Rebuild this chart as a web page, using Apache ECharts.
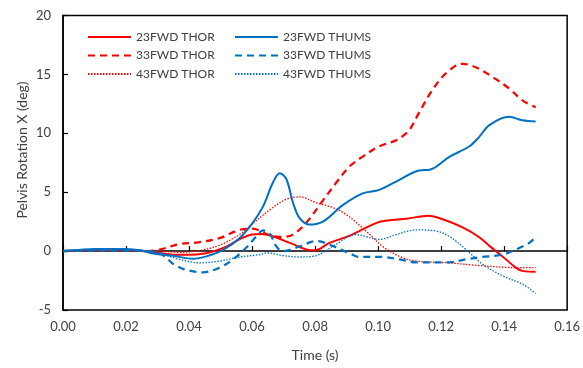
<!DOCTYPE html>
<html><head><meta charset="utf-8">
<script src="https://cdn.jsdelivr.net/npm/echarts@6/dist/echarts.min.js"></script>
<style>html,body{margin:0;padding:0;background:#fff}#c{width:583px;height:368px}</style>
</head><body><div id="c"></div>
<script>
const xTicks = [0, 0.02, 0.04, 0.06, 0.08, 0.10, 0.12, 0.14, 0.16];
const yTicks = [-5, 0, 5, 10, 15, 20];
const xTitle = 'Time (s)';
const yTitle = 'Pelvis Rotation X (deg)';

const thor23T = [0,0.005,0.01,0.015,0.02,0.025,0.03,0.035,0.04,0.045,0.048,0.052,0.056,0.06,0.063,0.066,0.072,0.078,0.08,0.0846,0.091,0.094,0.0995,0.103,0.109,0.116,0.1205,0.127,0.132,0.1355,0.1395,0.1437,0.146,0.15];
const thor23V = [0,0.05,0.1,0.1,0.1,0,-0.15,-0.3,-0.3,-0.2,0,0.4,1.0,1.4,1.45,1.3,0.7,0.1,0.07,0.7,1.3,1.7,2.4,2.6,2.75,3.0,2.7,2.0,1.2,0.4,-0.45,-1.4,-1.7,-1.75];

const thor33T = [0,0.01,0.02,0.027,0.031,0.037,0.043,0.0497,0.056,0.06,0.0656,0.0697,0.073,0.0772,0.0814,0.0867,0.091,0.095,0.1004,0.1057,0.108,0.11,0.1131,0.1173,0.1216,0.1268,0.131,0.1362,0.1416,0.1458,0.15];
const thor33V = [0,0.05,0.05,0,0.15,0.6,0.75,1.1,1.8,1.9,1.35,1.2,1.4,2.4,3.9,5.8,7.2,8.0,8.9,9.4,9.8,10.3,11.8,13.7,15.1,15.9,15.6,14.8,13.8,12.8,12.2];

const thor43T = [0,0.01,0.02,0.03,0.037,0.0434,0.0497,0.056,0.0592,0.0656,0.0709,0.0751,0.0804,0.0856,0.0899,0.0941,0.0982,0.1014,0.1068,0.112,0.1226,0.1331,0.1437,0.15];
const thor43V = [0,0.05,0.05,0,-0.1,0.05,0.5,1.4,2.1,3.5,4.4,4.6,4.1,3.7,3.1,2.2,1.2,0.4,-0.45,-0.85,-1.0,-1.25,-1.4,-1.4];

const thums23T = [0,0.005,0.01,0.02,0.025,0.0286,0.035,0.0413,0.0455,0.0508,0.056,0.0602,0.0635,0.0666,0.0688,0.0709,0.073,0.0751,0.0783,0.0825,0.0888,0.0951,0.1004,0.1057,0.1131,0.1163,0.1226,0.129,0.1321,0.1353,0.1416,0.1458,0.15];
const thums23V = [0,0.1,0.18,0.18,0.05,-0.2,-0.4,-0.65,-0.45,0.1,1.1,2.4,3.8,5.8,6.6,6.1,4.1,2.8,2.25,2.5,3.9,4.9,5.2,5.9,6.85,6.9,8.0,8.9,9.7,10.7,11.4,11.1,11.0];

const thums33T = [0,0.01,0.02,0.03,0.0329,0.035,0.0392,0.0445,0.0497,0.054,0.0582,0.0615,0.0635,0.0656,0.0677,0.0698,0.0751,0.0804,0.0846,0.091,0.0941,0.1014,0.1068,0.112,0.1226,0.1279,0.1331,0.1394,0.1437,0.148,0.15];
const thums33V = [0,0.05,0.05,-0.1,-0.6,-1.1,-1.6,-1.8,-1.4,-0.7,0.3,1.3,1.75,1.5,0.4,0,0.4,0.85,0.55,-0.2,-0.5,-0.5,-0.7,-0.95,-0.95,-0.7,-0.5,-0.3,0.13,0.7,1.2];

const thums43T = [0,0.01,0.02,0.028,0.031,0.037,0.0434,0.0497,0.056,0.0624,0.0645,0.0698,0.0751,0.0804,0.0856,0.093,0.1004,0.1057,0.112,0.1184,0.1226,0.1279,0.1331,0.1395,0.1458,0.15];
const thums43V = [0,0.05,0.05,0,-0.2,-0.7,-1.0,-0.85,-0.5,-0.3,-0.15,-0.38,-0.5,-0.38,0.4,1.4,1.0,1.4,1.8,1.7,1.25,0.13,-1.1,-2.1,-2.8,-3.6];

const RED = '#FF0000', BLUE = '#0070C0';
const FONT = 'Lato';
function pairs(t, v) { return t.map((x, i) => [x, v[i]]); }
function mk(name, t, v, color, type, width) {
  return {
    name, type: 'line', data: pairs(t, v), smooth: 0.35, showSymbol: false, symbol: 'none',
    lineStyle: { color, type, width }, itemStyle: { color }, z: 3
  };
}
const series = [
  mk('23FWD THOR', thor23T, thor23V, RED, 'solid', 2),
  mk('33FWD THOR', thor33T, thor33V, RED, [7, 5], 2.25),
  mk('43FWD THOR', thor43T, thor43V, RED, [1.5, 1.5], 1.3),
  mk('23FWD THUMS', thums23T, thums23V, BLUE, 'solid', 2),
  mk('33FWD THUMS', thums33T, thums33V, BLUE, [7, 5], 2.25),
  mk('43FWD THUMS', thums43T, thums43V, BLUE, [1.5, 1.5], 1.3)
];
const legendCommon = {
  orient: 'vertical', top: 26, itemWidth: 43, itemHeight: 14, itemGap: 6.5,
  itemStyle: { opacity: 0, borderWidth: 0 },
  textStyle: { fontFamily: FONT, fontSize: 12, color: '#404040' }
};
const chart = echarts.init(document.getElementById('c'), null, { renderer: 'canvas' });
chart.setOption({
  animation: false,
  backgroundColor: '#fff',
  grid: { left: 63, right: 15, top: 15.5, bottom: 58, show: true, borderColor: '#000', borderWidth: 1.5, backgroundColor: 'transparent' },
  legend: [
    Object.assign({}, legendCommon, { left: 82, data: ['23FWD THOR', '33FWD THOR', '43FWD THOR'] }),
    Object.assign({}, legendCommon, { left: 229, data: ['23FWD THUMS', '33FWD THUMS', '43FWD THUMS'] })
  ],
  xAxis: {
    type: 'value', min: xTicks[0], max: xTicks[xTicks.length - 1], interval: 0.02,
    name: xTitle, nameLocation: 'middle', nameGap: 38,
    nameTextStyle: { fontFamily: FONT, fontSize: 14, color: '#404040' },
    axisLine: { lineStyle: { color: '#000', width: 1.5 } },
    axisTick: { inside: true, length: 5, lineStyle: { color: '#000', width: 1.2 } },
    axisLabel: { fontFamily: FONT, fontSize: 13, color: '#404040', margin: 10, formatter: v => v.toFixed(2) },
    splitLine: { show: false }
  },
  yAxis: {
    type: 'value', min: yTicks[0], max: yTicks[yTicks.length - 1], interval: 5,
    axisLine: { lineStyle: { color: '#000', width: 1.5 } },
    axisTick: { inside: true, length: 5, lineStyle: { color: '#000', width: 1.2 } },
    axisLabel: { fontFamily: FONT, fontSize: 13, color: '#404040', margin: 12 },
    splitLine: { show: false }
  },
  graphic: [{
    type: 'text', x: 22, y: 150, rotation: Math.PI / 2,
    style: { text: yTitle, fontFamily: FONT, fontSize: 14, fill: '#404040', align: 'center', verticalAlign: 'middle' }
  }],
  series
});
</script></body></html>
